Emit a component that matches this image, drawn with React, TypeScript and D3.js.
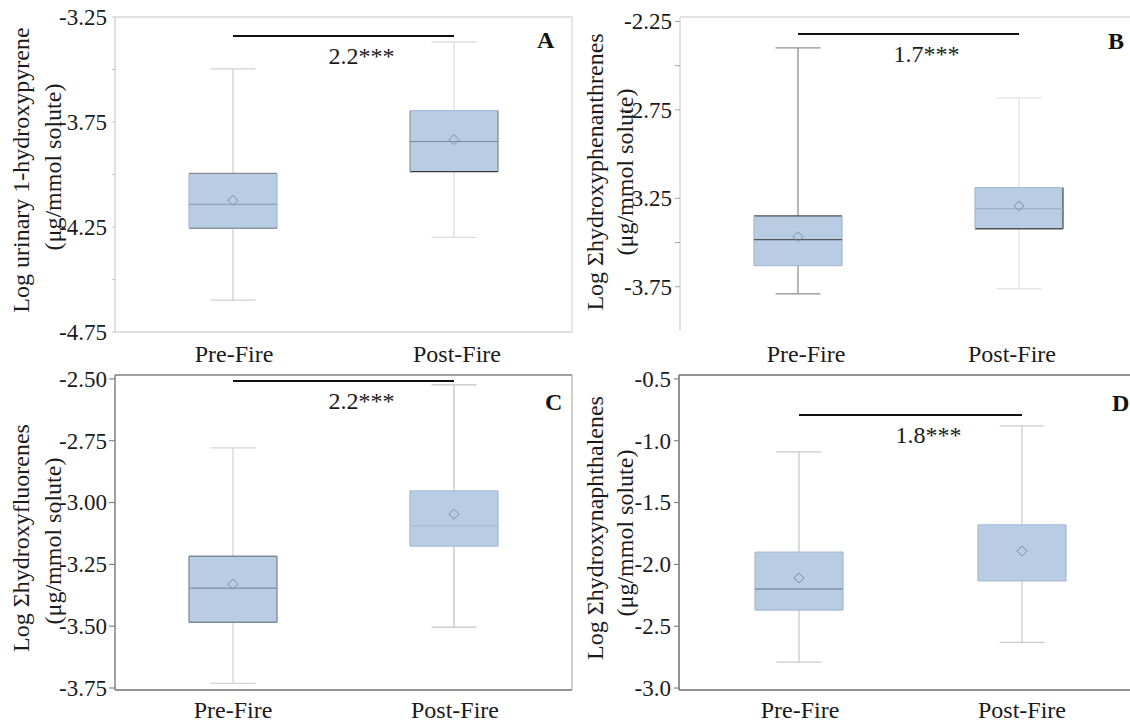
import React from "react";
import * as d3 from "d3";

// ---------------- data ----------------
const categories = ["Pre-Fire", "Post-Fire"];
const panelLetters = ["A", "B", "C", "D"];
const yTitleLine1 = [
  "Log urinary 1-hydroxypyrene",
  "Log Σhydroxyphenanthrenes",
  "Log Σhydroxyfluorenes",
  "Log Σhydroxynaphthalenes",
];
const yTitleLine2 = "(μg/mmol solute)";

const yDomains = [
  [-4.75, -3.25],
  [-4.0, -2.225],
  [-3.758, -2.484],
  [-3.016, -0.468],
];
const yTicks = [
  [-3.25, -3.5, -3.75, -4.0, -4.25, -4.5, -4.75],
  [-2.25, -2.5, -2.75, -3.25, -3.5, -3.75],
  [-2.5, -2.75, -3.0, -3.25, -3.5, -3.75],
  [-0.5, -1.0, -1.5, -2.0, -2.5, -3.0],
];
const yTickLabelled = [
  [-3.25, -3.75, -4.25, -4.75],
  [-2.25, -2.75, -3.25, -3.75],
  [-2.5, -2.75, -3.0, -3.25, -3.5, -3.75],
  [-0.5, -1.0, -1.5, -2.0, -2.5, -3.0],
];
const yTickDecimals = [2, 2, 2, 1];

// [Pre-Fire, Post-Fire] for panels A, B, C, D
const lowerWhisker = [[-4.598, -4.299], [-3.79, -3.761], [-3.731, -3.504], [-2.79, -2.63]];
const quartile1 = [[-4.256, -3.986], [-3.631, -3.422], [-3.484, -3.176], [-2.369, -2.134]];
const medians = [[-4.142, -3.843], [-3.484, -3.309], [-3.346, -3.095], [-2.199, null]];
const means = [[-4.123, -3.834], [-3.467, -3.293], [-3.33, -3.047], [-2.11, -1.892]];
const quartile3 = [[-3.995, -3.696], [-3.349, -3.19], [-3.217, -2.953], [-1.9, -1.681]];
const upperWhisker = [[-3.497, -3.369], [-2.4, -2.682], [-2.779, -2.524], [-1.09, -0.88]];

const foldChange = ["2.2", "1.7", "2.2", "1.8"];
const significanceStars = "***";
const sigBarValue = [-3.34, -2.321, -2.508, -0.791];

// ---------------- layout & styles ----------------
const layout = [
  { left: 115, right: 572, top: 17, bottom: 332, centers: [233, 454], labelCenters: [234, 457], xLabelY: 362, letterX: 537, letterY: 48, titleX: [29, 61], titleY: [170, 167], tickLen: 3 },
  { left: 680, right: 1130, top: 17, bottom: 331, centers: [798, 1019], labelCenters: [806, 1012], xLabelY: 362, letterX: 1108, letterY: 49, titleX: [603, 633], titleY: [172, 172], tickLen: 5 },
  { left: 115, right: 572, top: 375, bottom: 690, centers: [233, 454], labelCenters: [233, 455], xLabelY: 718, letterX: 545, letterY: 410, titleX: [29, 61], titleY: [538, 541], tickLen: 6 },
  { left: 679, right: 1130, top: 375, bottom: 690, centers: [799, 1022], labelCenters: [800, 1022], xLabelY: 718, letterX: 1112, letterY: 411, titleX: [603, 633], titleY: [528, 533], tickLen: 5 },
];

const frameStyles = [
  { top: "#d6d6d6", left: "#d6d6d6", bottom: "#d6d6d6", right: "#d6d6d6", tick: "#c8c8c8" },
  { top: "#dadada", left: "#dadada", bottom: null, right: null, tick: "#a0a0a0" },
  { top: "#808080", left: "#808080", bottom: "#707070", right: "#b0b0b0", tick: "#707070" },
  { top: "#6e6e6e", left: "#6e6e6e", bottom: "#6e6e6e", right: null, tick: "#6e6e6e" },
];

const LIGHT = "#a9bcd5";
// edge colours [top, right, bottom, left] per box
const boxEdges = [
  [["#8a8a8a", LIGHT, "#8a96a8", LIGHT], [LIGHT, "#8a8a8a", "#3a3a3a", "#9a9a9a"]],
  [["#505050", LIGHT, LIGHT, LIGHT], [LIGHT, "#505050", "#505050", LIGHT]],
  [["#7f8a99", "#7f8a99", "#7f8a99", "#7f8a99"], [LIGHT, LIGHT, LIGHT, LIGHT]],
  [[LIGHT, LIGHT, LIGHT, LIGHT], [LIGHT, LIGHT, LIGHT, LIGHT]],
];
const medianColors = [["#8a9ab0", "#7a889c"], ["#555555", "#9aabc2"], ["#7f8fa5", "#a6b8d0"], ["#8e9fb8", "#8e9fb8"]];
const medianWidths = [[1, 1], [1.2, 1], [1.2, 1], [2, 1]];
const whiskerColors = [["#d0d0d0", "#dcdcdc"], ["#8f8f8f", "#e2e2e2"], ["#d4d4d4", "#c4c4c4"], ["#c8c8c8", "#cccccc"]];

const BOX_FILL = "#b8cce4";
const BOX_W = 88;
const CAP_W = 45;
const FONT = "Liberation Serif, Times New Roman, Times, serif";
const SIG_FONT = 24;

function Panel({ i }: { i: number }) {
  const L = layout[i];
  const fs = frameStyles[i];
  const y = d3.scaleLinear().domain(yDomains[i]).range([L.bottom, L.top]);
  const x = d3.scalePoint<string>().domain(categories).range([L.centers[0], L.centers[1]]);
  const xl = d3.scalePoint<string>().domain(categories).range([L.labelCenters[0], L.labelCenters[1]]);
  const fmt = (v: number) => d3.format(`.${yTickDecimals[i]}f`)(v).replace("\u2212", "-");
  const xPre = x(categories[0])!;
  const xPost = x(categories[1])!;
  const mid = (xPre + xPost) / 2;
  const sigY = y(sigBarValue[i]);
  // "2.2" (3 glyphs: digit, period, digit => 1.25em in Times) centred on the bar
  const numHalf = (SIG_FONT * 1.25) / 2;

  return (
    <g>
      {/* frame */}
      {fs.top && <line x1={L.left} x2={L.right} y1={L.top} y2={L.top} stroke={fs.top} strokeWidth={1.3} />}
      {fs.bottom && <line x1={L.left} x2={L.right} y1={L.bottom} y2={L.bottom} stroke={fs.bottom} strokeWidth={1.5} />}
      {fs.left && <line x1={L.left} x2={L.left} y1={L.top} y2={L.bottom} stroke={fs.left} strokeWidth={1.5} />}
      {fs.right && <line x1={L.right} x2={L.right} y1={L.top} y2={L.bottom} stroke={fs.right} strokeWidth={1.2} />}

      {/* y ticks */}
      {yTicks[i].map((t) => (
        <line key={`t${t}`} x1={L.left - L.tickLen} x2={L.left} y1={y(t)} y2={y(t)} stroke={fs.tick} strokeWidth={1} />
      ))}
      {yTickLabelled[i].map((t) => (
        <text key={`l${t}`} x={L.left - 8} y={y(t)} dy="0.34em" textAnchor="end" fontSize={23} fontFamily={FONT} fill="#1a1a1a">
          {fmt(t)}
        </text>
      ))}

      {/* y title */}
      <text transform={`translate(${L.titleX[0]},${L.titleY[0]}) rotate(-90)`} textAnchor="middle" fontSize={24} fontFamily={FONT} fill="#1a1a1a">
        {yTitleLine1[i]}
      </text>
      <text transform={`translate(${L.titleX[1]},${L.titleY[1]}) rotate(-90)`} textAnchor="middle" fontSize={24} fontFamily={FONT} fill="#1a1a1a">
        {yTitleLine2}
      </text>

      {/* boxes */}
      {categories.map((c, j) => {
        const cx = x(c)!;
        const x0 = cx - BOX_W / 2;
        const x1 = cx + BOX_W / 2;
        const yq1 = y(quartile1[i][j]);
        const yq3 = y(quartile3[i][j]);
        const ylo = y(lowerWhisker[i][j]);
        const yhi = y(upperWhisker[i][j]);
        const med = medians[i][j];
        const ym = y(means[i][j]);
        const e = boxEdges[i][j];
        const wc = whiskerColors[i][j];
        const d = 5;
        return (
          <g key={c}>
            <line x1={cx} x2={cx} y1={yhi} y2={yq3} stroke={wc} strokeWidth={1.3} />
            <line x1={cx} x2={cx} y1={yq1} y2={ylo} stroke={wc} strokeWidth={1.3} />
            <line x1={cx - CAP_W / 2} x2={cx + CAP_W / 2} y1={yhi} y2={yhi} stroke={wc} strokeWidth={1.3} />
            <line x1={cx - CAP_W / 2} x2={cx + CAP_W / 2} y1={ylo} y2={ylo} stroke={wc} strokeWidth={1.3} />
            <rect x={x0} y={yq3} width={BOX_W} height={yq1 - yq3} fill={BOX_FILL} />
            <line x1={x0} x2={x1} y1={yq3} y2={yq3} stroke={e[0]} strokeWidth={1.3} />
            <line x1={x1} x2={x1} y1={yq3} y2={yq1} stroke={e[1]} strokeWidth={1.3} />
            <line x1={x0} x2={x1} y1={yq1} y2={yq1} stroke={e[2]} strokeWidth={1.3} />
            <line x1={x0} x2={x0} y1={yq3} y2={yq1} stroke={e[3]} strokeWidth={1.3} />
            {med !== null && (
              <line x1={x0} x2={x1} y1={y(med)} y2={y(med)} stroke={medianColors[i][j]} strokeWidth={medianWidths[i][j]} />
            )}
            <path d={`M${cx},${ym - d}L${cx + d},${ym}L${cx},${ym + d}L${cx - d},${ym}Z`} fill="none" stroke="#7d8ea8" strokeWidth={1} />
          </g>
        );
      })}

      {/* significance */}
      <line x1={xPre} x2={xPost} y1={sigY} y2={sigY} stroke="#111" strokeWidth={2} />
      <text x={mid - numHalf} y={sigY + 28} textAnchor="start" fontSize={SIG_FONT} fontFamily={FONT} fill="#1a1a1a">
        {foldChange[i] + significanceStars}
      </text>

      {/* panel letter */}
      <text x={L.letterX} y={L.letterY} fontSize={24} fontWeight="bold" fontFamily={FONT} fill="#111">
        {panelLetters[i]}
      </text>

      {/* x labels */}
      {categories.map((c) => (
        <text key={`x${c}`} x={xl(c)!} y={L.xLabelY} textAnchor="middle" fontSize={24} fontFamily={FONT} fill="#1a1a1a">
          {c}
        </text>
      ))}
    </g>
  );
}

export default function App() {
  return (
    <svg
      width={1130}
      height={723}
      viewBox="0 0 1130 723"
      style={{ position: "absolute", left: 0, top: 0, display: "block", background: "#fff" }}
    >
      <rect width={1130} height={723} fill="#fff" />
      {panelLetters.map((_, i) => (
        <Panel key={i} i={i} />
      ))}
    </svg>
  );
}
